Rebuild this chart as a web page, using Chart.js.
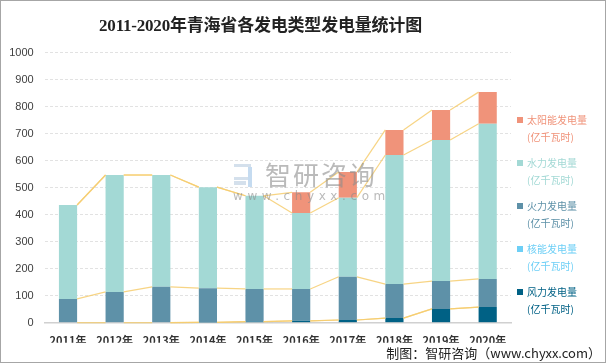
<!DOCTYPE html>
<html>
<head>
<meta charset="utf-8">
<script src="https://cdn.jsdelivr.net/npm/chart.js@4.4.1/dist/chart.umd.min.js"></script>
<style>
  html, body { margin: 0; padding: 0; background: #fff; }
  #wrap {
    position: relative; width: 604px; height: 361px;
    border: 1px solid #a6a6a6; background: #fff; overflow: hidden;
    font-family: "Noto Sans CJK SC", "Noto Sans", sans-serif;
  }
  #chart { position: absolute; left: 0; top: 0; }
  #title {
    position: absolute; left: 0; width: 519px; top: 10px; text-align: center;
    font-family: "Liberation Serif", "Noto Sans CJK SC", serif;
    font-size: 17px; font-weight: bold; color: #222; letter-spacing: -0.2px;
  }
  #legend { position: absolute; left: 516px; top: 110px; font-size: 10px; }
  .lg { position: relative; height: 43px; line-height: 17px; padding-left: 10px; }
  .lg i { position: absolute; left: 0; top: 6px; width: 6px; height: 6px; }
  #wm { position: absolute; left: 232px; top: 158px; color: #8c8c8c; opacity: 0.6; pointer-events: none; }
  #wm .big { position: absolute; left: 32px; top: 0; font-size: 26px; letter-spacing: 2px; white-space: nowrap; line-height: 30px; }
  #wm .small { position: absolute; left: 0; top: 30px; font-size: 12px; letter-spacing: 4.6px; white-space: nowrap; font-family: "DejaVu Sans", sans-serif; }
  #wm .ic1 { position: absolute; left: 1px; top: 5px; width: 14px; height: 10px; border: 3px solid #b8cbe0; border-left: none; }
  #wm .ic2 { position: absolute; left: 15px; top: 8px; width: 4px; height: 20px; background: #9fc3e6; }
  #wm .ic3 { position: absolute; left: 1px; top: 22px; width: 12px; height: 4px; background: #b8cbe0; }
  #src { position: absolute; right: 4px; bottom: 0px; font-size: 13px; color: #222; font-family: "Noto Sans CJK SC", sans-serif; }
</style>
</head>
<body>
<div id="wrap">
  <canvas id="chart" width="604" height="361"></canvas>
  <div id="title">2011-2020年青海省各发电类型发电量统计图</div>
  <div id="wm">
    <div class="ic1"></div><div class="ic2"></div><div class="ic3"></div>
    <div class="big">智研咨询</div>
    <div class="small">www.chyxx.com</div>
  </div>
  <div id="legend"></div>
  <div id="src">制图：智研咨询（www.chyxx.com）</div>
</div>
<script>
// ── Data ────────────────────────────────────────────────────────────────────

const years = ["2011年", "2012年", "2013年", "2014年", "2015年", "2016年", "2017年", "2018年", "2019年", "2020年"];

// 亿千瓦时
const wind    = [null, null, 0, 1, 4, 7, 10, 17, 51, 58];
const nuclear = [0, 0, 0, 0, 0, 0, 0, 0, 0, 0];
const thermal = [88, 114, 133, 127, 121, 118, 160, 126, 103, 104];
const hydro   = [348, 433, 414, 374, 345, 281, 293, 478, 523, 575];
const solar   = [0, 0, 0, 0, 0, 77, 95, 93, 111, 117];

const yTicks = [0, 100, 200, 300, 400, 500, 600, 700, 800, 900, 1000];

const seriesNames  = ["风力发电量", "核能发电量", "火力发电量", "水力发电量", "太阳能发电量"];
const seriesColors = ["#006185", "#6dcff6", "#5e91a8", "#a3d9d5", "#f0937a"];
const seriesData   = [wind, nuclear, thermal, hydro, solar];

// ── Legend (top to bottom = top of stack first) ────────────────────────────

const legendEl = document.getElementById("legend");
legendEl.innerHTML = seriesNames.map((n, i) => ({ n, c: seriesColors[i] })).reverse().map(s => `
  <div class="lg" style="color:${s.c}"><i style="background:${s.c}"></i>${s.n}<br>(亿千瓦时)</div>
`).join("");

// ── Series lines between bar tops ──────────────────────────────────────────

const seriesLines = {
  id: "seriesLines",
  afterDatasetsDraw(chart) {
    const ctx = chart.ctx;
    ctx.save();
    ctx.strokeStyle = "rgba(246, 205, 110, 0.85)";
    ctx.lineWidth = 1.2;
    chart.data.datasets.forEach((ds, di) => {
      const meta = chart.getDatasetMeta(di);
      for (let i = 0; i < ds.data.length - 1; i++) {
        if (ds.data[i] == null || ds.data[i + 1] == null) continue;
        const a = meta.data[i], b = meta.data[i + 1];
        ctx.beginPath();
        ctx.moveTo(a.x + a.width / 2, a.y);
        ctx.lineTo(b.x - b.width / 2, b.y);
        ctx.stroke();
      }
    });
    ctx.restore();
  }
};

// ── Chart ──────────────────────────────────────────────────────────────────

new Chart(document.getElementById("chart"), {
  type: "bar",
  data: {
    labels: years,
    datasets: seriesData.map((d, i) => ({
      label: seriesNames[i],
      data: d,
      backgroundColor: seriesColors[i],
      borderWidth: 0,
      categoryPercentage: 1,
      barPercentage: 0.39,
    }))
  },
  options: {
    responsive: false,
    animation: false,
    layout: { padding: { top: 51.7, right: 94, left: 0, bottom: 19.3 } },
    plugins: { legend: { display: false }, tooltip: { enabled: false }, title: { display: false } },
    scales: {
      x: {
        stacked: true,
        grid: { display: false, drawTicks: false },
        border: { display: true, color: "#d0d0d0", width: 1.5 },
        ticks: {
          color: "#333",
          padding: 12,
          font: { family: "'Noto Sans CJK SC', sans-serif", size: 11, weight: "bold" },
        },
        afterFit: s => { s.height = 20; },
      },
      y: {
        stacked: true,
        min: 0, max: 1000,
        afterBuildTicks: s => { s.ticks = yTicks.map(v => ({ value: v })); },
        grid: { color: "#e2e2e2", drawTicks: false },
        border: { display: false, dash: [3, 2] },
        ticks: {
          color: "#404040",
          padding: 11,
          font: { family: "'Liberation Sans', sans-serif", size: 11 },
          callback: v => String(v),
        },
        afterFit: s => { s.width = 43.7; },
      }
    }
  },
  plugins: [seriesLines]
});
</script>
</body>
</html>
